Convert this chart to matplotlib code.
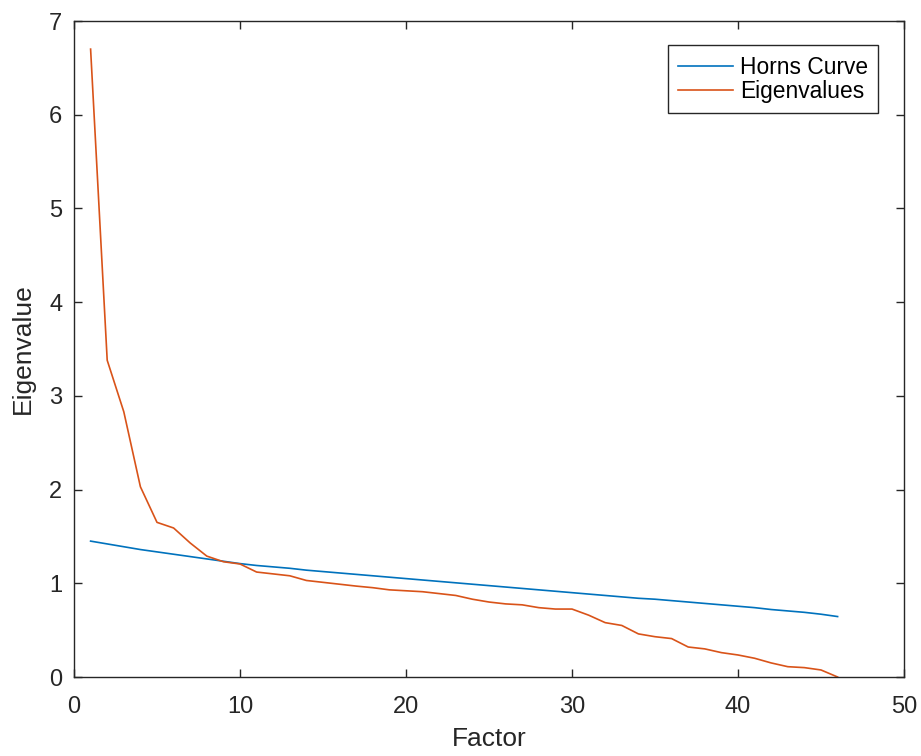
import numpy as np
import matplotlib
matplotlib.use("Agg")
import matplotlib.pyplot as plt

# --- Donnees ---
factors = np.arange(1, 47)
horns_curve = [1.45, 1.42, 1.39, 1.36, 1.335, 1.31, 1.285, 1.26, 1.235, 1.21,
               1.19, 1.175, 1.16, 1.14, 1.125, 1.11, 1.095, 1.08, 1.065, 1.05,
               1.035, 1.02, 1.005, 0.99, 0.975, 0.96, 0.945, 0.93, 0.915, 0.90,
               0.885, 0.87, 0.855, 0.84, 0.83, 0.815, 0.80, 0.785, 0.77, 0.755,
               0.74, 0.72, 0.705, 0.69, 0.67, 0.645]
eigenvalues = [6.70, 3.38, 2.83, 2.03, 1.65, 1.59, 1.43, 1.29, 1.23, 1.206,
               1.12, 1.10, 1.08, 1.03, 1.01, 0.99, 0.97, 0.953, 0.93, 0.92,
               0.91, 0.89, 0.87, 0.83, 0.80, 0.78, 0.77, 0.74, 0.725, 0.725,
               0.66, 0.58, 0.55, 0.46, 0.43, 0.41, 0.32, 0.30, 0.26, 0.235,
               0.20, 0.15, 0.11, 0.10, 0.075, 0.0]
xticks = [0, 10, 20, 30, 40, 50]
yticks = [0, 1, 2, 3, 4, 5, 6, 7]

BLUE = "#0072BD"
ORANGE = "#D95319"
GRIS = "#262626"

plt.rcParams["font.family"] = ["Liberation Sans", "DejaVu Sans"]

fig = plt.figure(figsize=(9.21, 7.56), dpi=100)
ax = fig.add_axes([74 / 921, 79 / 756, 830 / 921, 656 / 756])

ax.plot(factors, horns_curve, color=BLUE, lw=1.2, label="Horns Curve")
ax.plot(factors, eigenvalues, color=ORANGE, lw=1.2, label="Eigenvalues")

ax.set_xlim(0, 50)
ax.set_ylim(0, 7)
ax.set_xticks(xticks)
ax.set_yticks(yticks)
ax.tick_params(direction="in", length=6, width=1, colors=GRIS, labelsize=17,
               top=True, right=True, labelcolor=GRIS)
ax.tick_params(axis="x", pad=14)
ax.tick_params(axis="y", pad=8.5)
for s in ax.spines.values():
    s.set_color(GRIS)
    s.set_linewidth(1)

ax.set_xlabel("Factor", fontsize=19, color=GRIS, labelpad=6)
ax.set_ylabel("Eigenvalue", fontsize=19, color=GRIS, labelpad=10)

leg = ax.legend(loc="upper right", bbox_to_anchor=(0.969, 0.963),
                borderaxespad=0, fontsize=16.4, handlelength=2.4,
                handletextpad=0.3, fancybox=False, framealpha=1,
                edgecolor=GRIS, labelspacing=0.06, borderpad=0.45)
leg.get_frame().set_linewidth(1)

fig.savefig("out.png", dpi=100)
